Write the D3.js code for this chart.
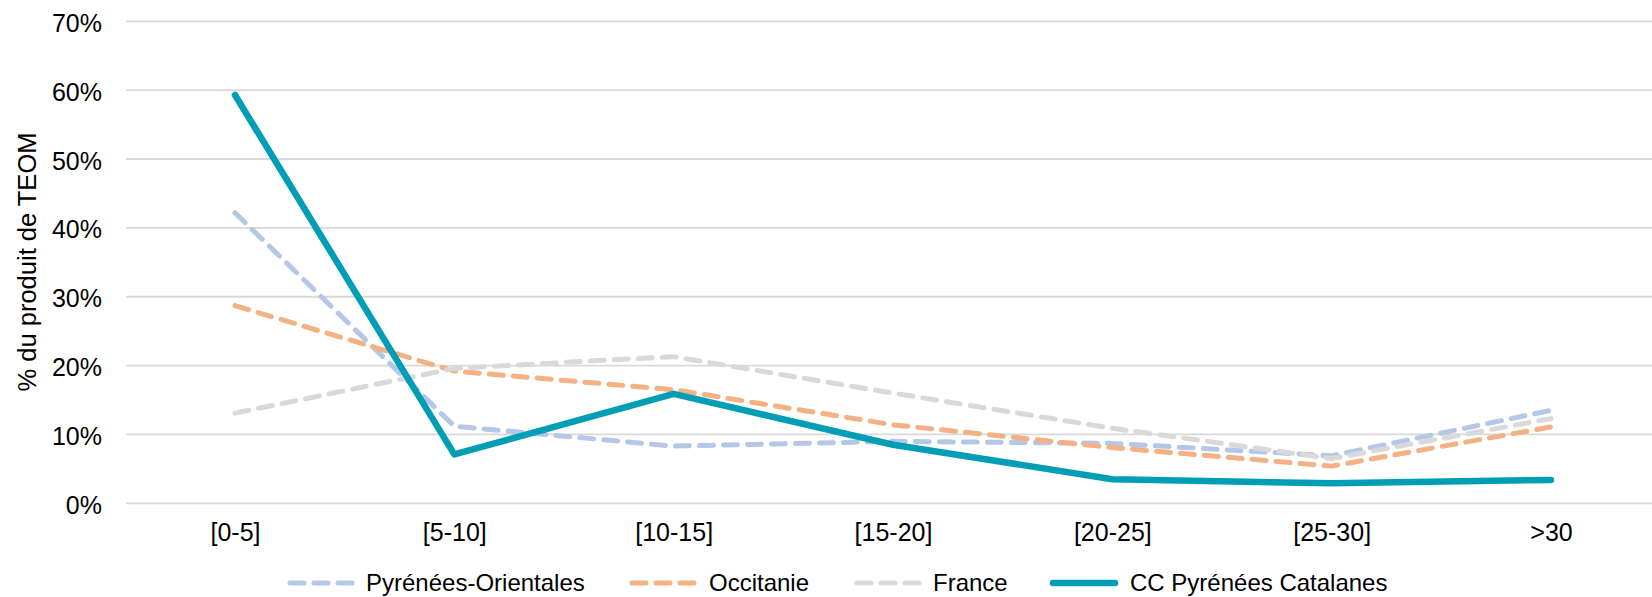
<!DOCTYPE html>
<html>
<head>
<meta charset="utf-8">
<script src="https://cdn.jsdelivr.net/npm/d3@7"></script>
<style>
  html, body { margin: 0; padding: 0; background: #fff; }
  svg { display: block; font-family: "Liberation Sans", Arial, sans-serif; }
</style>
</head>
<body>
<svg id="chart" width="1652" height="597"></svg>
<script>
// Tranches (catégories) et part du produit de TEOM (%) par territoire
const categories = ["[0-5]", "[5-10]", "[10-15]", "[15-20]", "[20-25]", "[25-30]", ">30"];
const pyreneesOrientales = [42.2, 11.2, 8.3, 9.0, 8.7, 6.9, 13.5];
const occitanie = [28.7, 19.2, 16.5, 11.4, 8.1, 5.4, 11.1];
const france = [13.1, 19.6, 21.3, 16.0, 10.9, 6.5, 12.3];
const ccPyreneesCatalanes = [59.3, 7.1, 15.9, 8.5, 3.5, 2.9, 3.4];
const yTicks = [0, 10, 20, 30, 40, 50, 60, 70];

const series = [
  { name: "Pyrénées-Orientales", values: pyreneesOrientales, color: "#B4C7E7", dashed: true },
  { name: "Occitanie", values: occitanie, color: "#F4B183", dashed: true },
  { name: "France", values: france, color: "#D9D9D9", dashed: true },
  { name: "CC Pyrénées Catalanes", values: ccPyreneesCatalanes, color: "#009EB5", dashed: false }
];

const svg = d3.select("#chart");
const gridLeft = 126, gridRight = 1652;

const x = d3.scalePoint().domain(categories).range([235, 1551]);
const y = d3.scaleLinear().domain([0, 70]).range([503.3, 21.3]);

// Grille horizontale
svg.append("g").selectAll("line").data(yTicks).join("line")
  .attr("x1", gridLeft).attr("x2", gridRight)
  .attr("y1", d => y(d)).attr("y2", d => y(d))
  .attr("stroke", "#D9D9D9").attr("stroke-width", 1.8);

// Axe des ordonnées (libellés seulement)
const yAxis = svg.append("g").attr("transform", "translate(102,2)")
  .call(d3.axisLeft(y).tickValues(yTicks).tickFormat(d => d + "%").tickSize(0).tickPadding(0));
yAxis.select(".domain").remove();
yAxis.selectAll("text").attr("font-size", 25).attr("fill", "#000")
  .attr("font-family", "Liberation Sans, Arial, sans-serif");

// Axe des abscisses (libellés seulement)
const xAxis = svg.append("g").attr("transform", "translate(0,523)")
  .call(d3.axisBottom(x).tickSize(0).tickPadding(0));
xAxis.select(".domain").remove();
xAxis.selectAll("text").attr("font-size", 25).attr("fill", "#000")
  .attr("font-family", "Liberation Sans, Arial, sans-serif");

// Titre de l'axe Y
svg.append("text")
  .attr("transform", "translate(36,262) rotate(-90)")
  .attr("text-anchor", "middle")
  .attr("font-size", 25.5).attr("fill", "#000")
  .text("% du produit de TEOM");

// Courbes
const line = d3.line().x((d, i) => x(categories[i])).y(d => y(d));
series.forEach(s => {
  svg.append("path")
    .datum(s.values)
    .attr("d", line)
    .attr("fill", "none")
    .attr("stroke", s.color)
    .attr("stroke-width", s.dashed ? 5 : 6.5)
    .attr("stroke-linecap", "round")
    .attr("stroke-linejoin", "round")
    .attr("stroke-dasharray", s.dashed ? "14,10" : null);
});

// Légende
const legendItems = [
  { sx: 290, tx: 366 },
  { sx: 632, tx: 709 },
  { sx: 857, tx: 933 },
  { sx: 1053, tx: 1130 }
];
const legendY = 583;
const legend = svg.append("g");
series.forEach((s, i) => {
  const p = legendItems[i];
  legend.append("line")
    .attr("x1", p.sx).attr("x2", p.sx + 62)
    .attr("y1", legendY).attr("y2", legendY)
    .attr("stroke", s.color)
    .attr("stroke-width", s.dashed ? 5 : 6.5)
    .attr("stroke-linecap", "round")
    .attr("stroke-dasharray", s.dashed ? "14,10" : null);
  legend.append("text")
    .attr("x", p.tx).attr("y", legendY)
    .attr("dy", "0.35em")
    .attr("font-size", 24).attr("fill", "#000")
    .text(s.name);
});
</script>
</body>
</html>
